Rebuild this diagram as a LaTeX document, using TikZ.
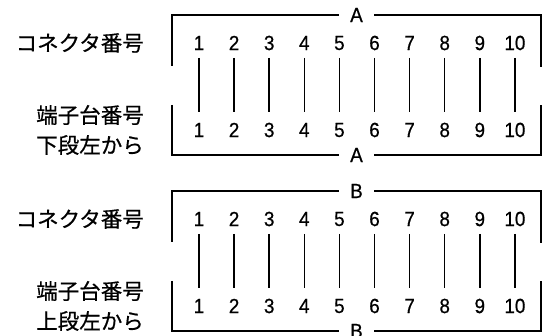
\documentclass[tikz,border=0pt]{standalone}
\usepackage{fontspec}
\setmainfont[AutoFakeBold=0.6]{Noto Sans CJK JP}
\newfontfamily\digitfont[FakeStretch=0.92,AutoFakeBold=0.6]{Liberation Sans}
\begin{document}
\begin{tikzpicture}[x=1pt,y=1pt,
  frame/.style={line width=1.5pt},
  link/.style={line width=1.5pt},
  num/.style={inner sep=0pt,font=\digitfont\bfseries\fontsize{20.5}{20.5}\selectfont},
  lab/.style={inner sep=0pt,anchor=east,font=\bfseries\fontsize{21.5}{21.5}\selectfont},
  tag/.style={fill=white,inner xsep=11pt,inner ysep=0pt,font=\digitfont\bfseries\fontsize{20.5}{20.5}\selectfont}]
\useasboundingbox (0,0) rectangle (547,336);
\foreach \blk/\t/\nm/\side in {A/0/A/下段左から, B/176/B/上段左から}{
  \begin{scope}[yshift=-\t pt]
    % frame
    \draw[frame] (172,270) -- (172,321) -- (541,321) node[tag,midway] (top\blk) {\nm} -- (541,269);
    \draw[frame] (172,231) -- (172,181) -- (541,181) node[tag,midway] (bot\blk) {\nm} -- (541,231);
    % left labels
    \node[lab] (c\blk) at (144,293) {コネクタ番号};
    \node[lab] (s\blk) at (144,221) {端子台番号};
    \node[lab] (d\blk) at (144,191) {\side};
    % numbers and links
    \foreach \i in {1,...,10}{
      \node[num] (t\blk\i) at ({199+35.1*(\i-1)},293) {\i};
      \node[num] (b\blk\i) at ({199+35.1*(\i-1)},206) {\i};
      \draw[link] ([yshift=-15pt]t\blk\i.center) -- ([yshift=18pt]b\blk\i.center);
    }
  \end{scope}
}
\end{tikzpicture}
\end{document}
